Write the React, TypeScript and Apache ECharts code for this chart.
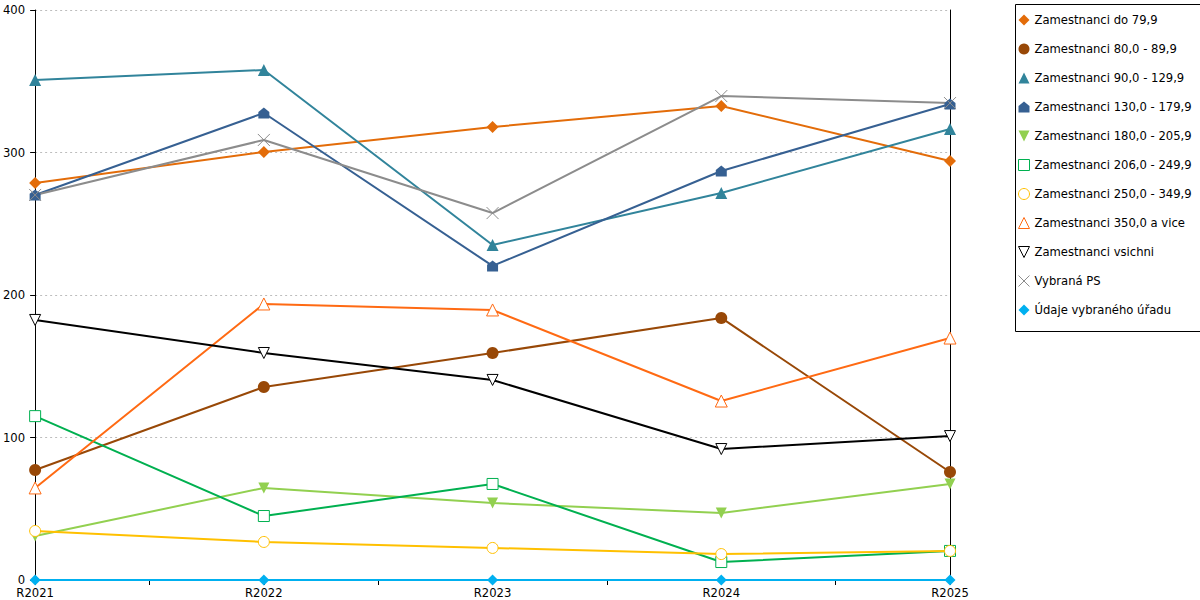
import { useEffect, useRef } from 'react'
import * as echarts from 'echarts'

const years = ['R2021', 'R2022', 'R2023', 'R2024', 'R2025']

const do79 = [278.6, 300.4, 317.9, 332.6, 294]
const r80to89 = [77.2, 135.4, 159.3, 183.9, 75.8]
const r90to129 = [350.9, 357.9, 235.1, 271.6, 316.5]
const r130to179 = [270.2, 327.7, 220.4, 287, 334]
const r180to205 = [30.9, 64.6, 54, 47, 67.4]
const r206to249 = [115, 44.9, 67.4, 12.6, 20.4]
const r250to349 = [34.4, 26.7, 22.5, 18.2, 20.4]
const r350plus = [64.6, 193.7, 189.5, 125.6, 169.8]
const vsichni = [182.5, 159.3, 140.4, 91.9, 101]
const vybranaPS = [270.2, 308.8, 257.5, 339.6, 334.7]
const udajeUradu = [0, 0, 0, 0, 0]

const FONT = 'DejaVu Sans'
const FS = 11.6

const house = 'path://M5,0 L10,4 L10,10 L0,10 L0,4 Z'
const downTri = 'path://M0,0 L10,0 L5,10 Z'
const cross = 'path://M0,0 L10,10 M10,0 L0,10'

type Def = {
  name: string
  data: number[]
  color: string
  symbol: string
  size: number
  hollow?: boolean
}

const defs: Def[] = [
  { name: 'Zamestnanci do 79,9', data: do79, color: '#E36C09', symbol: 'diamond', size: 12 },
  { name: 'Zamestnanci 80,0 - 89,9', data: r80to89, color: '#984807', symbol: 'circle', size: 12 },
  { name: 'Zamestnanci 90,0 - 129,9', data: r90to129, color: '#31849B', symbol: 'triangle', size: 12 },
  { name: 'Zamestnanci 130,0 - 179,9', data: r130to179, color: '#366092', symbol: house, size: 11 },
  { name: 'Zamestnanci 180,0 - 205,9', data: r180to205, color: '#92D050', symbol: downTri, size: 11 },
  { name: 'Zamestnanci 206,0 - 249,9', data: r206to249, color: '#00B050', symbol: 'rect', size: 11, hollow: true },
  { name: 'Zamestnanci 250,0 - 349,9', data: r250to349, color: '#FFC000', symbol: 'circle', size: 11, hollow: true },
  { name: 'Zamestnanci 350,0 a vice', data: r350plus, color: '#FF6A13', symbol: 'triangle', size: 12, hollow: true },
  { name: 'Zamestnanci vsichni', data: vsichni, color: '#000000', symbol: downTri, size: 11, hollow: true },
  { name: 'Vybraná PS', data: vybranaPS, color: '#8C8C8C', symbol: cross, size: 12, hollow: true },
  { name: 'Údaje vybraného úřadu', data: udajeUradu, color: '#00B0F0', symbol: 'diamond', size: 11 }
]

export default function App() {
  const ref = useRef<HTMLDivElement | null>(null)

  useEffect(() => {
    if (!ref.current) return
    const chart = echarts.init(ref.current, undefined, { renderer: 'svg' })

    const itemStyleOf = (d: Def) =>
      d.hollow
        ? { color: '#ffffff', borderColor: d.color, borderWidth: 1 }
        : { color: d.color, borderWidth: 0 }

    const option: echarts.EChartsOption = {
      animation: false,
      backgroundColor: '#ffffff',
      textStyle: { fontFamily: FONT },
      grid: { left: 35, right: 250, top: 10, bottom: 20 },
      graphic: [
        {
          type: 'rect',
          left: 1013,
          top: 2,
          shape: { x: 0.5, y: 0.5, width: 185, height: 327 },
          style: { fill: 'none', stroke: '#000', lineWidth: 1 },
          z: 0
        }
      ],
      legend: {
        orient: 'vertical',
        left: 1018,
        top: 13,
        itemWidth: 11,
        itemHeight: 11,
        itemGap: 15,
        padding: 0,
        textStyle: { fontFamily: FONT, fontSize: FS, lineHeight: 14, color: '#000' },
        data: defs.map((d) => ({
          name: d.name,
          icon: d.symbol,
          itemStyle: itemStyleOf(d)
        }))
      },
      xAxis: [
        {
          type: 'category',
          data: years,
          boundaryGap: false,
          axisLine: { lineStyle: { color: '#000', width: 1 } },
          axisTick: { show: false },
          axisLabel: { color: '#000', fontFamily: FONT, fontSize: FS, margin: 7 }
        },
        {
          type: 'value',
          min: 0,
          max: 4,
          interval: 0.5,
          position: 'bottom',
          axisLine: { show: false },
          axisTick: { show: true, length: 5, lineStyle: { color: '#000' } },
          axisLabel: { show: false },
          splitLine: { show: false }
        }
      ],
      yAxis: [
        {
          type: 'value',
          min: 0,
          max: 400,
          interval: 100,
          axisLine: { show: true, lineStyle: { color: '#000', width: 1 } },
          axisTick: { show: true, length: 5, lineStyle: { color: '#000' } },
          axisLabel: { color: '#000', fontFamily: FONT, fontSize: FS, margin: 10 },
          splitLine: { show: true, lineStyle: { color: '#bdbdbd', type: [2, 3] } }
        },
        {
          type: 'value',
          min: 0,
          max: 400,
          interval: 100,
          position: 'right',
          axisLine: { show: true, lineStyle: { color: '#000', width: 1 } },
          axisTick: { show: false },
          axisLabel: { show: false },
          splitLine: { show: false }
        }
      ],
      series: defs.map((d) => ({
        name: d.name,
        type: 'line',
        data: d.data,
        symbol: d.symbol,
        symbolSize: d.size,
        showAllSymbol: true,
        lineStyle: { color: d.color, width: 2 },
        itemStyle: itemStyleOf(d),
        emphasis: { disabled: true }
      }))
    }

    chart.setOption(option)
    return () => chart.dispose()
  }, [])

  return (
    <div
      ref={ref}
      style={{ position: 'fixed', left: 0, top: 0, width: 1200, height: 600 }}
    />
  )
}
